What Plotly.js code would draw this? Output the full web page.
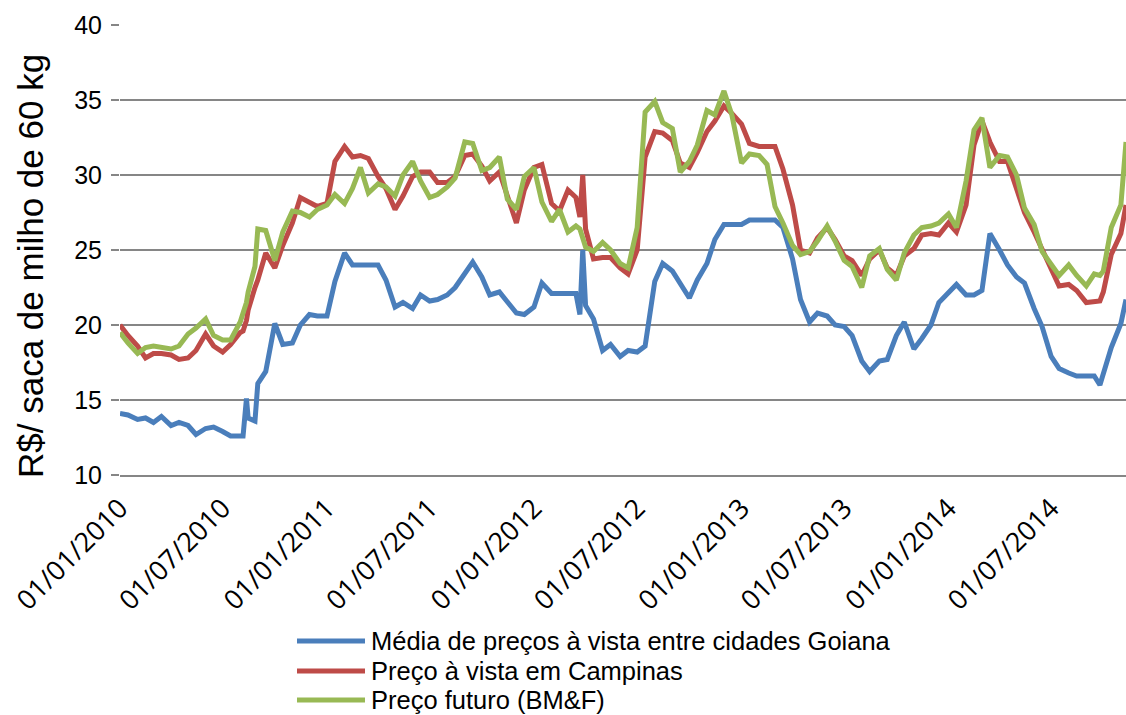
<!DOCTYPE html>
<html><head><meta charset="utf-8">
<script src="https://cdn.plot.ly/plotly-3.0.1.min.js"></script>
<style>html,body{margin:0;padding:0;background:#fff}#chart{width:1126px;height:715px}</style>
</head><body><div id="chart"></div>
<script>
const dates = [
  '2010-01-01','2010-01-15','2010-02-01','2010-02-15','2010-03-01','2010-03-15','2010-04-01','2010-04-15','2010-05-01','2010-05-15','2010-06-01','2010-06-15','2010-07-01','2010-07-15','2010-08-01','2010-08-06','2010-08-12','2010-08-15','2010-08-27','2010-09-01','2010-09-15','2010-10-01','2010-10-15','2010-11-01','2010-11-15','2010-12-01','2010-12-15',
  '2011-01-01','2011-01-15','2011-02-01','2011-02-15','2011-03-01','2011-03-15','2011-04-01','2011-04-15','2011-05-01','2011-05-15','2011-06-01','2011-06-15','2011-07-01','2011-07-15','2011-08-01','2011-08-15','2011-09-01','2011-09-15','2011-10-01','2011-10-15','2011-11-01','2011-11-15','2011-12-01','2011-12-15',
  '2012-01-01','2012-01-15','2012-02-01','2012-02-15','2012-03-01','2012-03-15','2012-03-22','2012-03-27','2012-04-01','2012-04-15','2012-05-01','2012-05-15','2012-06-01','2012-06-15','2012-07-01','2012-07-15','2012-08-01','2012-08-15','2012-09-01','2012-09-15','2012-10-01','2012-10-15','2012-11-01','2012-11-15','2012-12-01','2012-12-15',
  '2013-01-01','2013-01-15','2013-02-01','2013-02-15','2013-03-01','2013-03-15','2013-04-01','2013-04-15','2013-05-01','2013-05-15','2013-06-01','2013-06-15','2013-07-01','2013-07-15','2013-08-01','2013-08-15','2013-09-01','2013-09-15','2013-10-01','2013-10-15','2013-11-01','2013-11-15','2013-12-01','2013-12-15',
  '2014-01-01','2014-01-15','2014-02-01','2014-02-15','2014-03-01','2014-03-15','2014-04-01','2014-04-15','2014-05-01','2014-05-15','2014-06-01','2014-06-15','2014-07-01','2014-07-15','2014-08-01','2014-08-15','2014-09-01','2014-09-15','2014-09-25','2014-10-01','2014-10-15','2014-11-01','2014-11-10'
];

const goiana = [
  14.1,14.0,13.7,13.8,13.5,13.9,13.3,13.5,13.3,12.7,13.1,13.2,12.9,12.6,12.6,12.6,15.1,13.8,13.6,16.1,16.9,20.1,18.7,18.8,20.0,20.7,20.6,
  20.6,22.9,24.8,24.0,24.0,24.0,24.0,23.0,21.2,21.5,21.1,22.0,21.6,21.7,22.0,22.5,23.4,24.2,23.2,22.0,22.2,21.6,20.8,20.7,
  21.2,22.8,22.1,22.1,22.1,22.1,20.7,25.0,21.3,20.4,18.3,18.7,17.9,18.3,18.2,18.6,22.9,24.1,23.6,22.8,21.8,23.0,24.1,25.7,26.7,26.7,
  26.7,27.0,27.0,27.0,27.0,26.5,24.4,21.7,20.2,20.8,20.6,20.0,19.9,19.3,17.6,16.9,17.6,17.7,19.3,20.2,18.4,19.1,20.0,21.5,
  22.1,22.7,22.0,22.0,22.3,26.1,25.0,24.0,23.2,22.8,21.1,19.9,17.9,17.1,16.8,16.6,16.6,16.6,16.0,16.8,18.5,20.1,21.7
];

const campinas = [
  20.0,19.3,18.6,17.8,18.1,18.1,18.0,17.7,17.8,18.3,19.4,18.6,18.2,18.7,19.5,19.6,20.3,21.0,22.5,23.0,24.8,23.8,25.3,26.8,28.5,28.2,27.9,
  28.1,30.9,31.9,31.2,31.3,31.1,29.9,29.1,27.7,28.6,29.9,30.2,30.2,29.5,29.5,29.9,31.3,31.4,30.6,29.6,30.2,28.5,26.8,29.0,
  30.5,30.7,28.1,27.6,29.0,28.5,27.2,30.0,26.4,24.4,24.5,24.5,23.8,23.4,25.0,31.2,32.9,32.8,32.3,30.8,30.5,31.5,32.9,33.6,34.6,34.1,
  33.4,32.1,31.9,31.9,31.9,30.4,28.0,25.0,24.8,25.8,26.5,25.7,24.6,24.3,23.3,24.4,25.0,23.8,23.3,24.6,25.1,26.0,26.1,26.0,
  26.8,26.2,28.0,32.0,33.6,32.2,30.9,30.9,29.1,27.5,26.2,25.0,23.6,22.6,22.7,22.3,21.5,21.6,21.6,22.2,24.7,26.1,28.0
];

const futuro = [
  19.5,18.8,18.1,18.5,18.6,18.5,18.4,18.6,19.4,19.8,20.4,19.3,19.0,19.0,20.2,20.8,21.5,22.2,23.9,26.4,26.3,24.3,26.2,27.6,27.5,27.2,27.7,
  28.0,28.7,28.1,29.1,30.5,28.8,29.4,29.2,28.6,30.0,30.9,29.6,28.5,28.7,29.2,29.8,32.2,32.1,30.3,30.5,31.2,28.4,27.7,29.9,
  30.5,28.2,26.9,27.7,26.2,26.6,26.4,25.7,25.2,24.9,25.5,25.0,24.1,23.8,26.5,34.2,34.9,33.5,33.1,30.2,30.9,32.0,34.3,34.0,35.6,34.0,
  30.8,31.4,31.3,30.7,27.9,26.8,25.3,24.7,24.9,25.6,26.6,25.6,24.3,23.9,22.5,24.6,25.1,23.7,23.0,24.8,26.0,26.5,26.6,26.8,
  27.4,26.5,29.6,33.0,33.8,30.5,31.3,31.2,30.0,27.8,26.7,24.9,24.1,23.3,24.0,23.3,22.6,23.4,23.3,23.6,26.5,28.0,32.2
];

const seriesNames = ['Média de preços à vista entre cidades Goiana','Preço à vista em Campinas','Preço futuro (BM&F)'];
const tickDates = ['2010-01-01','2010-07-01','2011-01-01','2011-07-01','2012-01-01','2012-07-01','2013-01-01','2013-07-01','2014-01-01','2014-07-01'];
const tickLabels = ['01/01/2010','01/07/2010','01/01/2011','01/07/2011','01/01/2012','01/07/2012','01/01/2013','01/07/2013','01/01/2014','01/07/2014'];
const yTitle = 'R$/ saca de milho de 60 kg';

const colors = ['#4A7EBB','#BE4B48','#98B954'];
const vals = [goiana, campinas, futuro];
const traces = vals.map((v,k)=>({
  x: dates, y: v, type:'scatter', mode:'lines', name: seriesNames[k],
  line:{color: colors[k], width: 5}, showlegend:false
}));

// Legend drawn as paper-positioned shapes + annotations (Excel-style compact rows)
const plotL = 120, plotW = 1006, plotB = 475, plotH = 450;
const px = x => (x - plotL) / plotW;
const py = y => (plotB - y) / plotH;
const rowY = [641, 671, 700];
const shapes = rowY.map((y,k)=>({
  type:'line', xref:'paper', yref:'paper',
  x0:px(297), x1:px(365), y0:py(y), y1:py(y),
  line:{color:colors[k], width:5}
}));
const annotations = rowY.map((y,k)=>({
  text:seriesNames[k], xref:'paper', yref:'paper', x:px(369), y:py(y),
  xanchor:'left', yanchor:'middle', showarrow:false,
  font:{family:'Liberation Sans, Arial, sans-serif', size:25.5, color:'#000'}
}));
annotations.push({
  text:yTitle, xref:'paper', yref:'paper', x:px(30), y:py(266),
  xanchor:'center', yanchor:'middle', textangle:-90, showarrow:false,
  font:{family:'Liberation Sans, Arial, sans-serif', size:35, color:'#000'}
});

const layout = {
  width:1126, height:715,
  margin:{l:120, r:0, t:25, b:240, autoexpand:false},
  paper_bgcolor:'#fff', plot_bgcolor:'#fff',
  showlegend:false,
  xaxis:{
    type:'date', range:['2010-01-01','2014-11-10'],
    tickmode:'array', tickvals:tickDates, ticktext:tickLabels,
    tickangle:-45, tickfont:{family:'Open Sans, sans-serif', size:27, color:'#000'},
    showgrid:false, zeroline:false, showline:true, linecolor:'#868686', linewidth:1.5,
    ticks:'', ticklabelstandoff:5
  },
  yaxis:{
    range:[10,40], tick0:10, dtick:5,
    showgrid:true, gridcolor:'#868686', gridwidth:1.5,
    ticks:'outside', ticklen:8, tickcolor:'#868686', tickwidth:1.5,
    tickfont:{family:'Liberation Sans, Arial, sans-serif', size:25, color:'#000'},
    zeroline:false, showline:false, ticklabelstandoff:4
  },
  shapes: shapes,
  annotations: annotations
};

Plotly.newPlot('chart', traces, layout, {displayModeBar:false, responsive:false});
</script>
</body></html>
